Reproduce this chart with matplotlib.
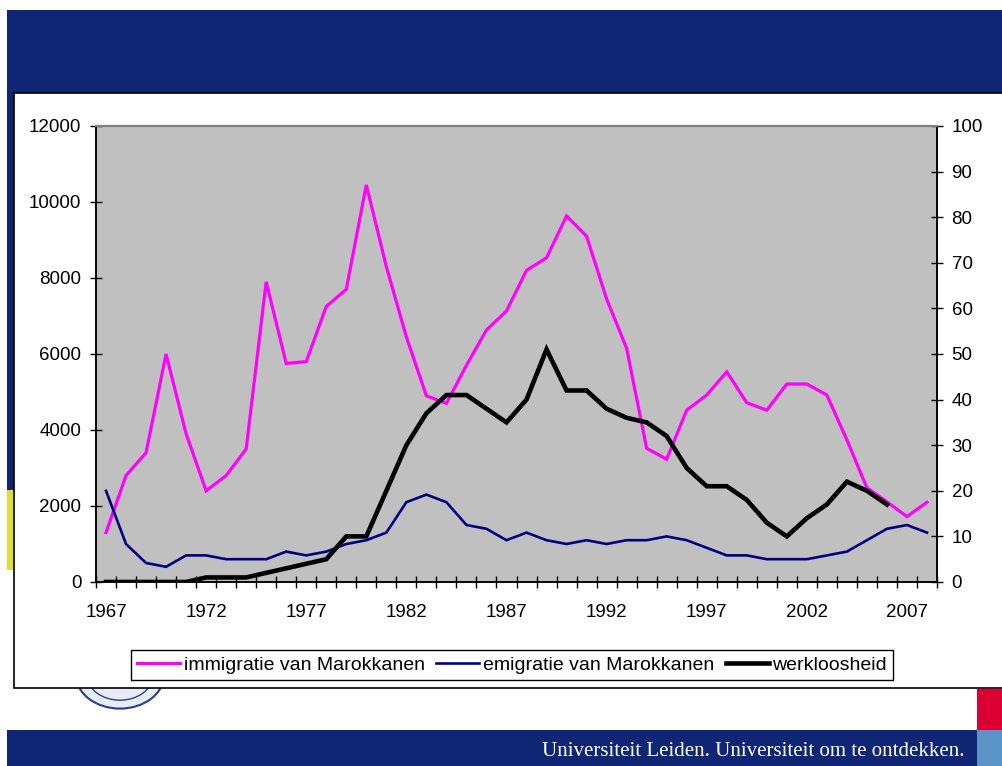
import matplotlib
matplotlib.use("Agg")
import matplotlib.pyplot as plt
from matplotlib.patches import Rectangle, Circle
import numpy as np

plt.rcParams['font.family'] = ['Liberation Sans', 'DejaVu Sans']

years = list(range(1967, 2009))
immigratie = [1300, 2800, 3400, 6000, 3900, 2400, 2800, 3500, 7900, 5750,
              5800, 7250, 7700, 10450, 8300, 6450, 4900, 4700, 5700, 6630,
              7130, 8200, 8530, 9630, 9100, 7450, 6150, 3520, 3230, 4520,
              4920, 5530, 4720, 4520, 5210, 5210, 4920, 3740, 2480, 2110,
              1720, 2100]
emigratie = [2400, 1000, 500, 400, 700, 700, 600, 600, 600, 800,
             700, 800, 1000, 1100, 1300, 2100, 2300, 2100, 1500, 1400,
             1100, 1300, 1100, 1000, 1100, 1000, 1100, 1100, 1200, 1100,
             900, 700, 700, 600, 600, 600, 700, 800, 1100, 1400,
             1500, 1300]
werkloosheid = [0, 0, 0, 0, 0, 1, 1, 1, 2, 3,
                4, 5, 10, 10, 20, 30, 37, 41, 41, 38,
                35, 40, 51, 42, 42, 38, 36, 35, 32, 25,
                21, 21, 18, 13, 10, 14, 17, 22, 20, 17,
                np.nan, np.nan]
label_years = [1967, 1972, 1977, 1982, 1987, 1992, 1997, 2002, 2007]
left_ticks = [0, 2000, 4000, 6000, 8000, 10000, 12000]
right_ticks = [0, 10, 20, 30, 40, 50, 60, 70, 80, 90, 100]
legend_labels = ["immigratie van Marokkanen", "emigratie van Marokkanen", "werkloosheid"]

W, H = 1003, 766
fig = plt.figure(figsize=(W / 100, H / 100), dpi=100)
fig.patch.set_facecolor('white')

NAVY = '#0E2673'

def rect(x0, y0, x1, y1, fc, ec='none', lw=0, z=-2):
    r = Rectangle((x0 / W, 1 - y1 / H), (x1 - x0) / W, (y1 - y0) / H,
                  transform=fig.transFigure, facecolor=fc, edgecolor=ec,
                  linewidth=lw, zorder=z)
    fig.add_artist(r)

# slide decoration
rect(7, 10, 1003, 93, NAVY)
rect(7, 93, 14, 490, NAVY)
rect(7, 490, 14, 570, '#E0DC33')
rect(977, 689, 1003, 730, '#DC0032')
rect(7, 730, 977, 766, NAVY)
rect(977, 730, 1003, 766, '#5B94C8')
# seal (partially hidden)
seal = Circle((120 / W, 1 - 675 / H), 44 / W, transform=fig.transFigure,
              facecolor='#E8ECF4', edgecolor='#2A3F8A', linewidth=1.5, zorder=-1.8)
fig.add_artist(seal)
seal2 = Circle((120 / W, 1 - 675 / H), 33 / W, transform=fig.transFigure,
               facecolor='none', edgecolor='#2A3F8A', linewidth=1.0, zorder=-1.7)
fig.add_artist(seal2)
# chart box
rect(14, 93, 1010, 688, 'white', ec='black', lw=1.2, z=-1)

fig.text(965 / W, 1 - 751 / H, "Universiteit Leiden. Universiteit om te ontdekken.",
         color='white', fontsize=15, family=['Liberation Serif', 'DejaVu Serif'],
         ha='right', va='center')

ax = fig.add_axes([96 / W, 1 - 582 / H, (937 - 96) / W, (582 - 126) / H])
ax.set_facecolor('#C0C0C0')
ax2 = ax.twinx()

l1, = ax.plot(years, immigratie, color='#FF00FF', lw=2.3, solid_joinstyle='miter', zorder=3)
l2, = ax.plot(years, emigratie, color='#000080', lw=1.9, solid_joinstyle='miter', zorder=3)
l3, = ax2.plot(years, werkloosheid, color='black', lw=3.3, solid_joinstyle='miter', zorder=3)

ax.set_xlim(years[0] - 0.5, years[-1] + 0.5)
ax.set_ylim(0, 12000)
ax2.set_ylim(0, 100)

ax.set_xticks([y - 0.5 for y in years] + [years[-1] + 0.5])
ax.set_xticklabels([])
ax.set_xticks(label_years, minor=True)
ax.set_xticklabels([str(y) for y in label_years], minor=True)
ax.tick_params(axis='x', which='major', direction='inout', length=9, width=1, color='black')
ax.tick_params(axis='x', which='minor', length=0, pad=16, labelsize=13.5)

ax.set_yticks(left_ticks)
ax.set_yticklabels([str(v) for v in left_ticks])
ax.tick_params(axis='y', direction='inout', length=9, width=1, labelsize=13.5, pad=6)
ax2.set_yticks(right_ticks)
ax2.set_yticklabels([str(v) for v in right_ticks])
ax2.tick_params(axis='y', direction='inout', length=9, width=1, labelsize=13.5, pad=6)

for a in (ax, ax2):
    for s in ('left', 'right', 'bottom'):
        a.spines[s].set_color('black')
        a.spines[s].set_linewidth(1.1)
    a.spines['top'].set_color('#808080')
    a.spines['top'].set_linewidth(1.5)

leg = fig.legend([l1, l2, l3], legend_labels, loc='center',
                 bbox_to_anchor=(512 / W, 1 - 665 / H), ncol=3, fontsize=14,
                 frameon=True, fancybox=False, edgecolor='black', framealpha=1,
                 handlelength=2.2, handletextpad=0.2, columnspacing=0.6,
                 borderpad=0.3, borderaxespad=0)
leg.get_frame().set_linewidth(1.0)

fig.savefig('out.png', dpi=100)
